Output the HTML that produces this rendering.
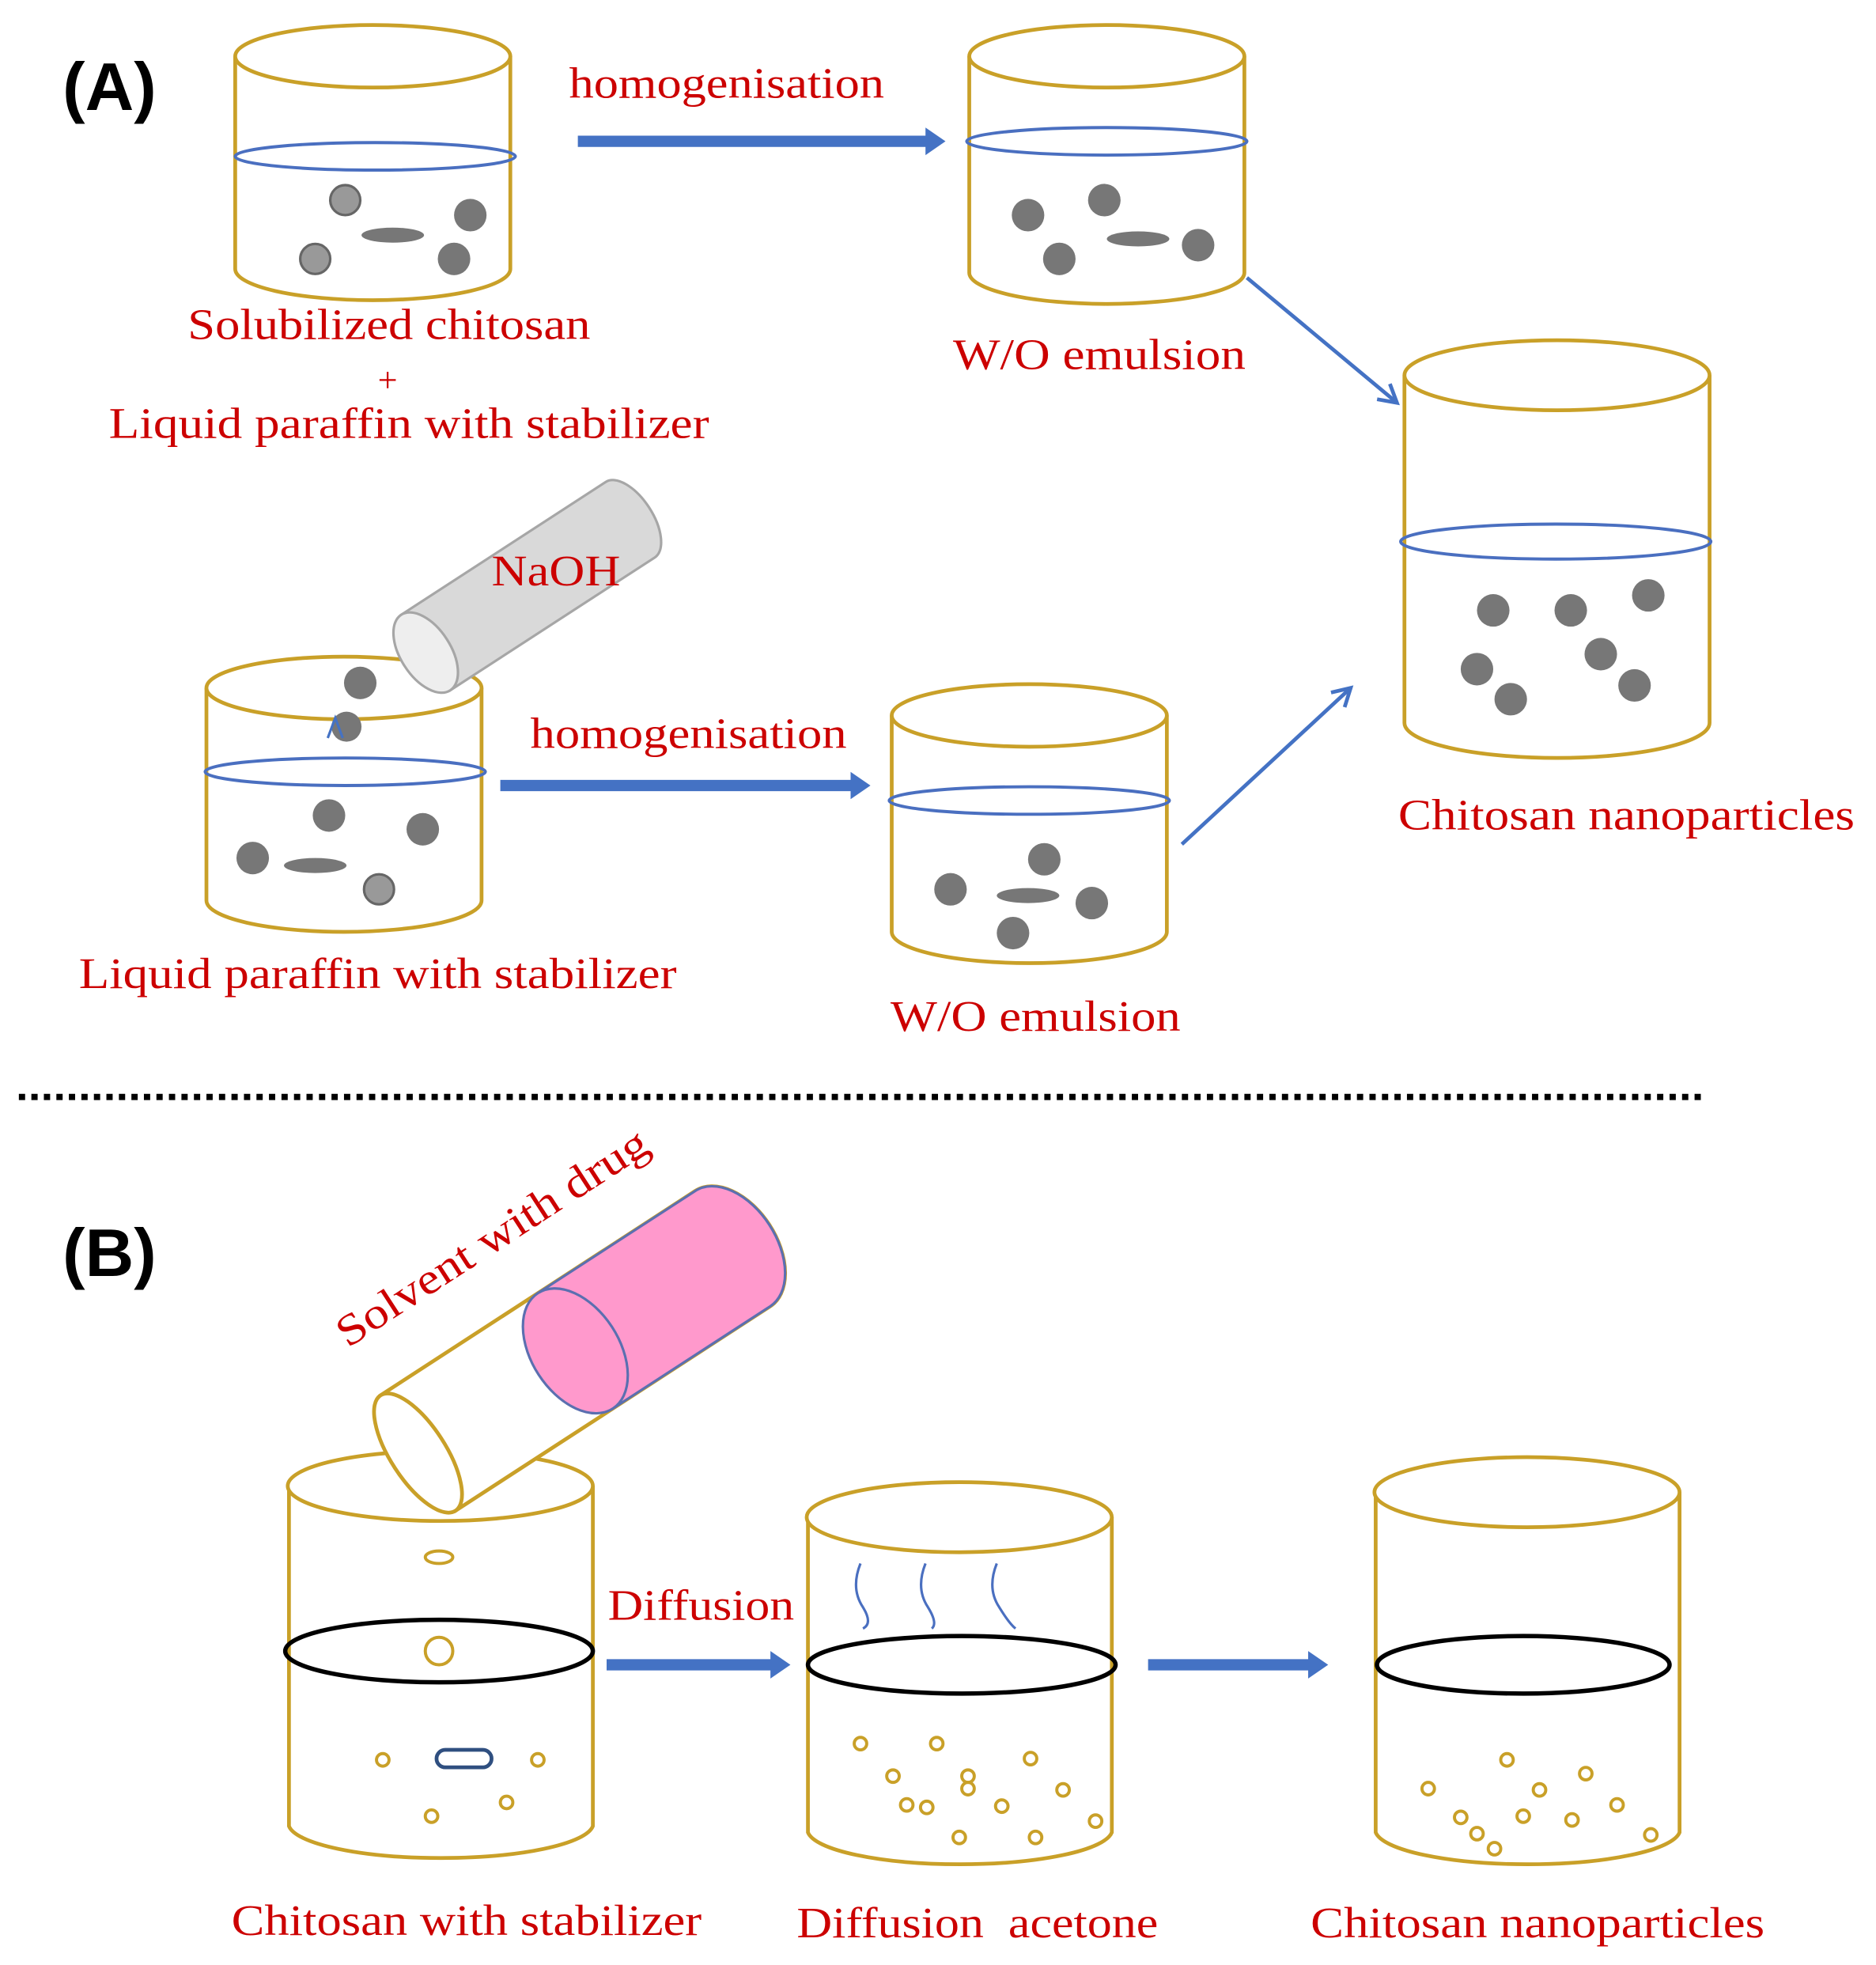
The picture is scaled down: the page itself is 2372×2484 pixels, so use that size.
<!DOCTYPE html>
<html><head><meta charset="utf-8"><style>html,body{margin:0;padding:0;background:#fff}svg{display:block}</style></head><body>
<svg width="2372" height="2484" viewBox="0 0 1500 1571" xmlns="http://www.w3.org/2000/svg">
<defs>
<marker id="ah" markerWidth="20" markerHeight="26" refX="2" refY="12" orient="auto" markerUnits="userSpaceOnUse"><path d="M0,1 L16,12 L0,23 z" fill="#4472c4"/></marker>
<marker id="ah2" markerWidth="24" markerHeight="24" refX="18" refY="12" orient="auto" markerUnits="userSpaceOnUse"><path d="M4,4 L18,12 L4,20" fill="none" stroke="#4472c4" stroke-width="3"/></marker>
</defs>
<!-- arrows -->
<g stroke="#4472c4">
<line x1="462" y1="113" x2="742" y2="113" stroke-width="9" marker-end="url(#ah)"/>
<line x1="400" y1="628" x2="682" y2="628" stroke-width="9" marker-end="url(#ah)"/>
<line x1="485" y1="1331" x2="618" y2="1331" stroke-width="9" marker-end="url(#ah)"/>
<line x1="918" y1="1331" x2="1048" y2="1331" stroke-width="9" marker-end="url(#ah)"/>
<line x1="997" y1="222" x2="1117" y2="322" stroke-width="3" marker-end="url(#ah2)"/>
<line x1="945" y1="675" x2="1080" y2="550" stroke-width="3" marker-end="url(#ah2)"/>
</g>
<!-- beakers -->
<g fill="#fff" stroke="#c9a028" stroke-width="3">
<path d="M188,45 L188,215 A110,25 0 0 0 408,215 L408,45"/><ellipse cx="298" cy="45" rx="110" ry="25"/>
<path d="M775,45 L775,218 A110,25 0 0 0 995,218 L995,45"/><ellipse cx="885" cy="45" rx="110" ry="25"/>
<path d="M1123,300 L1123,578 A122,28 0 0 0 1367,578 L1367,300"/><ellipse cx="1245" cy="300" rx="122" ry="28"/>
<path d="M165,550 L165,720 A110,25 0 0 0 385,720 L385,550"/><ellipse cx="275" cy="550" rx="110" ry="25"/>
<path d="M713,572 L713,745 A110,25 0 0 0 933,745 L933,572"/><ellipse cx="823" cy="572" rx="110" ry="25"/>
<path d="M231,1188 L231,1460 A122,28 0 0 0 474,1460 L474,1188"/><ellipse cx="352" cy="1188" rx="122" ry="28"/>
<path d="M646,1213 L646,1465 A122,28 0 0 0 889,1465 L889,1213"/><ellipse cx="767" cy="1213" rx="122" ry="28"/>
<path d="M1100,1193 L1100,1465 A122,28 0 0 0 1343,1465 L1343,1193"/><ellipse cx="1221" cy="1193" rx="122" ry="28"/>
</g>
<g fill="none" stroke="#4a6fc0" stroke-width="2.5">
<ellipse cx="300" cy="125" rx="112" ry="11"/>
<ellipse cx="885" cy="113" rx="112" ry="11"/>
<ellipse cx="1244" cy="433" rx="124" ry="14"/>
<ellipse cx="276" cy="617" rx="112" ry="11"/>
<ellipse cx="823" cy="640" rx="112" ry="11"/>
</g>
<g fill="none" stroke="#000" stroke-width="3.5">
<ellipse cx="351" cy="1320" rx="123" ry="25"/>
<ellipse cx="769" cy="1331" rx="123" ry="23"/>
<ellipse cx="1218" cy="1331" rx="117" ry="23"/>
</g>
<g fill="#777">
<circle cx="376" cy="172" r="13"/><circle cx="363" cy="207" r="13"/><ellipse cx="314" cy="188" rx="25" ry="6"/>
<circle cx="822" cy="172" r="13"/><circle cx="883" cy="160" r="13"/><circle cx="847" cy="207" r="13"/><circle cx="958" cy="196" r="13"/><ellipse cx="910" cy="191" rx="25" ry="6"/>
<circle cx="1194" cy="488" r="13"/><circle cx="1256" cy="488" r="13"/><circle cx="1318" cy="476" r="13"/><circle cx="1181" cy="535" r="13"/><circle cx="1208" cy="559" r="13"/><circle cx="1280" cy="523" r="13"/><circle cx="1307" cy="548" r="13"/>
<circle cx="288" cy="546" r="13"/><circle cx="277" cy="581" r="12"/><circle cx="263" cy="652" r="13"/><circle cx="338" cy="663" r="13"/><circle cx="202" cy="686" r="13"/><ellipse cx="252" cy="692" rx="25" ry="6"/>
<circle cx="835" cy="687" r="13"/><circle cx="760" cy="711" r="13"/><circle cx="873" cy="722" r="13"/><circle cx="810" cy="746" r="13"/><ellipse cx="822" cy="716" rx="25" ry="6"/>
</g>
<g fill="#999" stroke="#666" stroke-width="2">
<circle cx="276" cy="160" r="12"/><circle cx="252" cy="207" r="12"/><circle cx="303" cy="711" r="12"/>
</g>
<path d="M262,590 L268,574 L274,590" fill="none" stroke="#4472c4" stroke-width="2"/>
<!-- NaOH tube -->
<g transform="translate(420,470) rotate(-33)">
<path d="M-95,-36 L100,-36 A18,36 0 0 1 100,36 L-95,36 Z" fill="#d9d9d9" stroke="#a6a6a6" stroke-width="2"/>
<ellipse cx="-95" cy="0" rx="20" ry="36" fill="#eee" stroke="#a6a6a6" stroke-width="2"/>
</g>
<!-- Solvent tube -->
<g transform="translate(460,1080) rotate(-33)">
<path d="M-150,-55 L150,-55 A35,55 0 0 1 150,55 L-150,55 Z" fill="#fff" stroke="#c9a028" stroke-width="3"/>
<path d="M0,-55 L150,-55 A35,55 0 0 1 150,55 L0,55 Z" fill="#ff99cc" stroke="#5b6fb0" stroke-width="2"/>
<ellipse cx="0" cy="0" rx="35" ry="55" fill="#ff99cc" stroke="#5b6fb0" stroke-width="2"/>
<ellipse cx="-150" cy="0" rx="22" ry="55" fill="#fff" stroke="#c9a028" stroke-width="3"/>
</g>
<g fill="none" stroke="#c9a028" stroke-width="2.5">
<ellipse cx="351" cy="1245" rx="11" ry="5"/><circle cx="351" cy="1320" r="11"/>
<circle cx="306" cy="1407" r="5"/><circle cx="430" cy="1407" r="5"/><circle cx="345" cy="1452" r="5"/><circle cx="405" cy="1441" r="5"/>
<circle cx="688" cy="1394" r="5"/><circle cx="749" cy="1394" r="5"/><circle cx="714" cy="1420" r="5"/><circle cx="774" cy="1420" r="5"/><circle cx="774" cy="1430" r="5"/><circle cx="824" cy="1406" r="5"/><circle cx="725" cy="1443" r="5"/><circle cx="741" cy="1445" r="5"/><circle cx="801" cy="1444" r="5"/><circle cx="850" cy="1431" r="5"/><circle cx="767" cy="1469" r="5"/><circle cx="828" cy="1469" r="5"/><circle cx="876" cy="1456" r="5"/>
<circle cx="1142" cy="1430" r="5"/><circle cx="1205" cy="1407" r="5"/><circle cx="1268" cy="1418" r="5"/><circle cx="1231" cy="1431" r="5"/><circle cx="1218" cy="1452" r="5"/><circle cx="1257" cy="1455" r="5"/><circle cx="1293" cy="1443" r="5"/><circle cx="1168" cy="1453" r="5"/><circle cx="1181" cy="1466" r="5"/><circle cx="1195" cy="1478" r="5"/><circle cx="1320" cy="1467" r="5"/>
</g>
<rect x="349" y="1399" width="44" height="14" rx="7" fill="none" stroke="#2f4f80" stroke-width="3"/>
<g fill="none" stroke="#4a6fc0" stroke-width="2">
<path d="M688,1250 Q680,1270 690,1285 Q698,1298 690,1302"/>
<path d="M740,1250 Q732,1270 742,1285 Q750,1298 745,1302"/>
<path d="M797,1250 Q789,1270 799,1285 Q807,1298 812,1302"/>
</g>
<line x1="15" y1="877" x2="1365" y2="877" stroke="#000" stroke-width="5" stroke-dasharray="5,5"/>
<g font-family="'Liberation Serif',serif" fill="#cc0000" font-size="35" lengthAdjust="spacingAndGlyphs">
<text x="50" y="88" font-family="'Liberation Sans',sans-serif" font-weight="bold" font-size="54" fill="#000">(A)</text>
<text x="50" y="1020" font-family="'Liberation Sans',sans-serif" font-weight="bold" font-size="54" fill="#000">(B)</text>
<text x="455" y="78" textLength="252" lengthAdjust="spacingAndGlyphs">homogenisation</text>
<text x="150" y="271" textLength="322" lengthAdjust="spacingAndGlyphs">Solubilized chitosan</text>
<text x="302" y="313" font-size="28">+</text>
<text x="87" y="350" textLength="480" lengthAdjust="spacingAndGlyphs">Liquid paraffin with stabilizer</text>
<text x="762" y="295" textLength="234" lengthAdjust="spacingAndGlyphs">W/O emulsion</text>
<text x="1118" y="663" textLength="365" lengthAdjust="spacingAndGlyphs">Chitosan nanoparticles</text>
<text x="393" y="468" textLength="103" lengthAdjust="spacingAndGlyphs">NaOH</text>
<text x="424" y="598" textLength="253" lengthAdjust="spacingAndGlyphs">homogenisation</text>
<text x="63" y="790" textLength="478" lengthAdjust="spacingAndGlyphs">Liquid paraffin with stabilizer</text>
<text x="712" y="824" textLength="232" lengthAdjust="spacingAndGlyphs">W/O emulsion</text>
<text x="486" y="1295" textLength="149" lengthAdjust="spacingAndGlyphs">Diffusion</text>
<text x="185" y="1547" textLength="376" lengthAdjust="spacingAndGlyphs">Chitosan with stabilizer</text>
<text x="637" y="1549" textLength="289" lengthAdjust="spacingAndGlyphs">Diffusion&#160; acetone</text>
<text x="1048" y="1549" textLength="363" lengthAdjust="spacingAndGlyphs">Chitosan nanoparticles</text>
<text transform="translate(278,1078) rotate(-33)" textLength="290" lengthAdjust="spacingAndGlyphs">Solvent with drug</text>
</g>
</svg>
</body></html>
